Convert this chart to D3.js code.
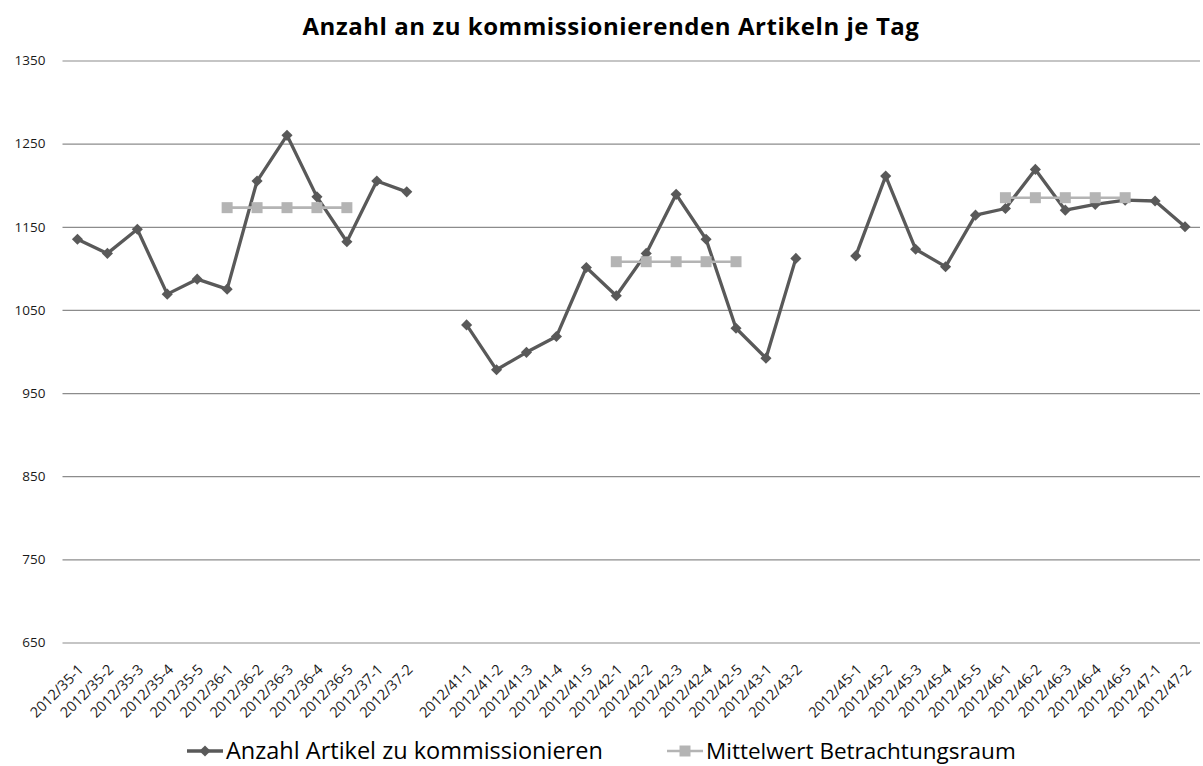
<!DOCTYPE html>
<html lang="de">
<head>
<meta charset="UTF-8">
<title>Anzahl an zu kommissionierenden Artikeln je Tag</title>
<script src="https://cdnjs.cloudflare.com/ajax/libs/d3/7.8.5/d3.min.js"></script>
<style>
    body { margin: 0; background: #ffffff; font-family: 'Open Sans', sans-serif; }
    svg { display: block; }
</style>
</head>
<body>
<div id="chart"></div>
<script>
// categories (null = empty slot between the three blocks)
const categories = [
    "2012/35-1", "2012/35-2", "2012/35-3", "2012/35-4", "2012/35-5",
    "2012/36-1", "2012/36-2", "2012/36-3", "2012/36-4", "2012/36-5",
    "2012/37-1", "2012/37-2",
    null,
    "2012/41-1", "2012/41-2", "2012/41-3", "2012/41-4", "2012/41-5",
    "2012/42-1", "2012/42-2", "2012/42-3", "2012/42-4", "2012/42-5",
    "2012/43-1", "2012/43-2",
    null,
    "2012/45-1", "2012/45-2", "2012/45-3", "2012/45-4", "2012/45-5",
    "2012/46-1", "2012/46-2", "2012/46-3", "2012/46-4", "2012/46-5",
    "2012/47-1", "2012/47-2"
];

const artikel = [
    1135, 1118, 1147, 1069, 1087, 1075, 1205, 1260, 1186, 1132, 1205, 1192,
    null,
    1032, 978, 999, 1018, 1101, 1067, 1118, 1189, 1135, 1028, 992, 1112,
    null,
    1115, 1211, 1123, 1102, 1164, 1172, 1219, 1170, 1177, 1182, 1181, 1150
];

const mittelwert = [
    null, null, null, null, null, 1173, 1173, 1173, 1173, 1173, null, null,
    null,
    null, null, null, null, null, 1108, 1108, 1108, 1108, 1108, null, null,
    null,
    null, null, null, null, null, 1185, 1185, 1185, 1185, 1185, null, null
];

const yTicks = [650, 750, 850, 950, 1050, 1150, 1250, 1350];

const seriesNames = ["Anzahl Artikel zu kommissionieren", "Mittelwert Betrachtungsraum"];

const W = 1203, H = 766;
const plot = { left: 62.5, right: 1200, top: 60.5, bottom: 642.5 };

const svg = d3.select("#chart").append("svg")
    .attr("width", W)
    .attr("height", H);

const x = d3.scaleBand()
    .domain(d3.range(categories.length))
    .range([plot.left, plot.right]);

const y = d3.scaleLinear()
    .domain([650, 1350])
    .range([plot.bottom, plot.top]);

// title
svg.append("text")
    .attr("x", 611)
    .attr("y", 35)
    .attr("text-anchor", "middle")
    .style("font-size", "24px")
    .style("font-weight", "bold")
    .style("letter-spacing", "0.55px")
    .style("fill", "#000")
    .text("Anzahl an zu kommissionierenden Artikeln je Tag");

// gridlines + y labels
const yAxis = svg.append("g")
    .attr("transform", `translate(${plot.left},0)`)
    .call(d3.axisLeft(y).tickValues(yTicks).tickFormat(d3.format("d"))
        .tickSize(-(plot.right - plot.left)).tickPadding(17));
yAxis.select(".domain").remove();
yAxis.selectAll(".tick line").attr("stroke", "#8c8c8c").attr("stroke-width", 1.2);
yAxis.selectAll(".tick text")
    .style("font-size", "13.5px")
    .style("font-family", "'Open Sans', sans-serif")
    .style("fill", "#1a1a1a");

// x labels
const xAxis = svg.append("g")
    .attr("transform", `translate(0,${plot.bottom})`)
    .call(d3.axisBottom(x).tickSize(0).tickFormat(i => categories[i] || ""));
xAxis.select(".domain").remove();
xAxis.selectAll(".tick text")
    .attr("text-anchor", "end")
    .attr("dy", 0)
    .attr("y", 0)
    .attr("transform", "translate(7,28) rotate(-45)")
    .style("font-size", "14.5px")
    .style("font-family", "'Open Sans', sans-serif")
    .style("fill", "#1a1a1a");

const cx = i => x(i) + x.bandwidth() / 2;

const line = d3.line()
    .defined(d => d != null)
    .x((d, i) => cx(i))
    .y(d => y(d));

const diamond = d3.symbol().type(d3.symbolSquare).size(62);
const square = d3.symbol().type(d3.symbolSquare).size(121);

// series 1
svg.append("path")
    .datum(artikel)
    .attr("fill", "none")
    .attr("stroke", "#595959")
    .attr("stroke-width", 3.3)
    .attr("stroke-linejoin", "round")
    .attr("d", line);

svg.append("g").selectAll("path")
    .data(artikel.map((v, i) => ({ v, i })).filter(d => d.v != null))
    .join("path")
    .attr("d", diamond)
    .attr("fill", "#595959")
    .attr("transform", d => `translate(${cx(d.i)},${y(d.v)}) rotate(45)`);

// series 2
svg.append("path")
    .datum(mittelwert)
    .attr("fill", "none")
    .attr("stroke", "#b4b4b4")
    .attr("stroke-width", 2.6)
    .attr("d", line);

svg.append("g").selectAll("path")
    .data(mittelwert.map((v, i) => ({ v, i })).filter(d => d.v != null))
    .join("path")
    .attr("d", square)
    .attr("fill", "#b4b4b4")
    .attr("transform", d => `translate(${cx(d.i)},${y(d.v)})`);

// legend
const legend = svg.append("g");
const legendItems = [
    { name: seriesNames[0], x0: 187, color: "#595959", sym: diamond, rot: 45, sw: 3.3, fs: 23.5 },
    { name: seriesNames[1], x0: 667, color: "#b4b4b4", sym: square, rot: 0, sw: 2.6, fs: 22.5 }
];
legendItems.forEach(it => {
    const g = legend.append("g").attr("transform", `translate(${it.x0},751)`);
    g.append("line")
        .attr("x1", 0).attr("x2", 36)
        .attr("stroke", it.color)
        .attr("stroke-width", it.sw);
    g.append("path")
        .attr("d", it.sym)
        .attr("fill", it.color)
        .attr("transform", `translate(18,0) rotate(${it.rot})`);
    g.append("text")
        .attr("x", 39)
        .attr("y", 8)
        .style("font-size", it.fs + "px")
        .style("fill", "#000")
        .text(it.name);
});
</script>
</body>
</html>
